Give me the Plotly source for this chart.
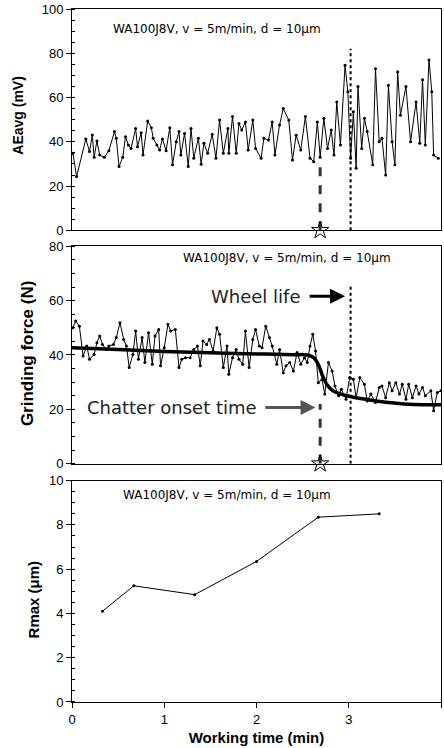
import plotly.graph_objects as go

# ---------------- data ----------------
ae_t = [0.01,0.05,0.15,0.19,0.22,0.24,0.27,0.30,0.35,0.40,0.46,0.48,0.51,0.55,0.58,0.61,0.64,0.69,0.71,0.75,
        0.77,0.82,0.86,0.88,0.92,0.95,0.98,1.02,1.06,1.09,1.13,1.16,1.18,1.22,1.26,1.29,1.32,1.37,1.40,1.43,
        1.47,1.52,1.56,1.60,1.64,1.69,1.70,1.74,1.78,1.81,1.84,1.88,1.91,1.96,1.99,2.05,2.08,2.13,2.17,2.20,
        2.25,2.29,2.35,2.39,2.43,2.48,2.53,2.58,2.62,2.66,2.69,2.73,2.77,2.81,2.84,2.87,2.91,2.96,2.99,3.02,
        3.05,3.08,3.10,3.14,3.17,3.20,3.26,3.29,3.33,3.36,3.40,3.43,3.47,3.50,3.53,3.56,3.62,3.67,3.73,3.77,
        3.80,3.83,3.87,3.90,3.92,3.97]
ae_v = [34.8,24.3,41.3,35.6,43.1,33.0,40.4,34.0,33.0,36.0,44.6,41.6,28.8,33.0,42.3,38.6,37.0,46.0,37.8,44.1,
        34.0,49.4,46.4,41.6,38.6,36.3,41.3,36.0,46.4,29.6,40.0,44.6,34.0,43.8,28.8,46.0,32.6,41.6,29.9,39.3,
        34.8,43.4,32.6,49.8,34.8,46.0,34.8,51.4,34.8,48.3,45.3,49.0,36.3,49.8,37.0,32.6,41.6,40.8,49.0,34.0,
        47.6,55.0,49.8,31.8,43.0,36.3,51.4,32.6,31.0,49.0,33.0,50.6,37.0,45.3,34.0,58.0,38.6,74.6,62.6,32.6,
        53.6,28.0,65.0,37.0,50.6,44.6,29.6,73.0,40.0,41.6,25.0,65.6,40.0,29.6,71.6,52.0,65.0,40.0,58.0,39.3,
        68.0,38.6,77.0,62.6,34.0,32.6]

f_t = [0.01,0.04,0.08,0.12,0.16,0.19,0.24,0.27,0.30,0.33,0.37,0.40,0.45,0.48,0.52,0.56,0.59,0.62,0.66,0.69,
       0.72,0.76,0.79,0.83,0.87,0.90,0.94,0.96,1.00,1.04,1.07,1.12,1.16,1.19,1.23,1.28,1.32,1.36,1.39,1.42,
       1.46,1.49,1.53,1.57,1.60,1.64,1.68,1.70,1.74,1.78,1.81,1.85,1.88,1.92,1.96,1.99,2.03,2.06,2.10,2.14,
       2.17,2.22,2.25,2.29,2.32,2.36,2.40,2.44,2.48,2.52,2.55,2.58,2.61,2.64,2.67,2.71,2.74,2.78,2.82,2.85,
       2.89,2.92,2.97,3.01,3.05,3.08,3.12,3.17,3.20,3.24,3.29,3.33,3.36,3.40,3.44,3.47,3.51,3.55,3.58,3.62,
       3.65,3.69,3.73,3.76,3.80,3.83,3.89,3.92,3.96,4.00]
f_v = [50.0,52.5,50.6,39.6,43.3,38.4,40.2,44.5,47.0,43.9,42.0,43.3,43.9,46.4,51.9,45.7,43.3,35.4,40.2,48.8,
       38.4,46.4,37.2,48.2,36.6,47.0,49.4,36.0,42.7,51.3,48.8,49.4,35.4,38.4,39.0,39.0,42.0,43.3,36.0,45.1,
       43.9,45.7,41.5,50.0,47.6,35.4,43.3,32.9,39.0,42.0,38.4,36.6,48.8,35.4,45.7,49.4,43.3,42.7,50.6,46.4,
       43.3,36.6,42.0,33.5,36.0,37.2,34.1,40.9,36.6,39.0,37.2,43.3,47.6,41.5,29.8,31.0,25.6,37.2,34.1,28.6,
       25.0,27.4,23.7,31.7,31.1,24.3,31.7,29.2,23.1,25.6,22.5,28.0,28.6,24.3,29.8,26.8,29.8,25.6,29.2,23.7,
       29.2,24.3,28.6,25.6,28.0,25.0,26.8,19.5,26.2,26.8]

fit_t = [0.0,0.5,1.0,1.5,2.0,2.4,2.55,2.62,2.67,2.72,2.77,2.83,2.9,3.0,3.2,3.4,3.6,3.8,4.0]
fit_v = [42.7,42.0,41.3,40.8,40.4,40.1,40.0,39.0,36.5,32.0,28.8,26.8,25.8,24.8,23.6,22.6,22.0,21.7,21.7]

r_t = [0.33,0.67,1.33,2.0,2.67,3.33]
r_v = [4.1,5.25,4.85,6.35,8.35,8.5]

onset_t = 2.69
life_t = 3.02
onset_ae_top = 29
life_ae_top = 82
onset_f_top = 22
life_f_top = 66

cond_label = "WA100J8V, v = 5m/min, d = 10μm"

# ---------------- figure ----------------
fig = go.Figure()
line_kw = dict(color="black", width=1)
mk = dict(color="black", size=3)

fig.add_trace(go.Scatter(x=ae_t, y=ae_v, mode="lines+markers", line=line_kw, marker=mk,
                         xaxis="x", yaxis="y", showlegend=False))
fig.add_trace(go.Scatter(x=f_t, y=f_v, mode="lines+markers", line=line_kw, marker=mk,
                         xaxis="x2", yaxis="y2", showlegend=False))
fig.add_trace(go.Scatter(x=fit_t, y=fit_v, mode="lines", line=dict(color="black", width=3.5, shape="spline"),
                         xaxis="x2", yaxis="y2", showlegend=False))
fig.add_trace(go.Scatter(x=r_t, y=r_v, mode="lines+markers", line=line_kw, marker=mk,
                         xaxis="x3", yaxis="y3", showlegend=False))

# vertical markers
for xa, ya, otop, ltop in [("x", "y", onset_ae_top, life_ae_top), ("x2", "y2", onset_f_top, life_f_top)]:
    fig.add_trace(go.Scatter(x=[onset_t, onset_t], y=[0, otop], mode="lines",
                             line=dict(color="#333", width=3, dash="dash"),
                             xaxis=xa, yaxis=ya, showlegend=False))
    fig.add_trace(go.Scatter(x=[life_t, life_t], y=[0, ltop], mode="lines",
                             line=dict(color="black", width=2, dash="dot"),
                             xaxis=xa, yaxis=ya, showlegend=False))
    fig.add_trace(go.Scatter(x=[onset_t], y=[0], mode="markers",
                             marker=dict(symbol="star-open", size=13, color="black", line=dict(width=1)),
                             cliponaxis=False, xaxis=xa, yaxis=ya, showlegend=False))

font_tick = dict(family="Liberation Sans, Arial", size=13, color="black")
ax_common = dict(range=[0, 4], showline=True, mirror=True, linecolor="black", linewidth=1,
                 showgrid=False, zeroline=False, tickfont=font_tick)
y_common = dict(showline=True, mirror=True, linecolor="black", linewidth=1, showgrid=False,
                zeroline=False, ticks="outside", ticklen=5, tickcolor="black", tickfont=font_tick,
                minor=dict(ticks="inside", ticklen=3, tickcolor="black"))

fig.update_layout(
    width=444, height=748,
    margin=dict(l=72, r=2, t=7, b=46),
    plot_bgcolor="white", paper_bgcolor="white",
    xaxis=dict(ax_common, anchor="y", showticklabels=False),
    yaxis=dict(y_common, domain=[0.6806, 1.0], range=[0, 100], dtick=20),
    xaxis2=dict(ax_common, anchor="y2", showticklabels=False),
    yaxis2=dict(y_common, domain=[0.3439, 0.6576], range=[0, 80], dtick=20),
    xaxis3=dict(ax_common, anchor="y3", dtick=1, ticks="outside", ticklen=5, tickcolor="black",
                title=dict(text="<b>Working time (min)</b>", standoff=6,
                           font=dict(family="Liberation Sans, Arial", size=15, color="black"))),
    yaxis3=dict(y_common, domain=[0.0, 0.3194], range=[0, 10], dtick=2),
)

ann = [
    dict(text="<b>AEavg (mV)</b>", xref="paper", yref="paper", x=0, y=0.846, xshift=-54,
         textangle=-90, showarrow=False, font=dict(family="Liberation Sans, Arial", size=14, color="black"),
         xanchor="center", yanchor="middle"),
    dict(text="<b>Grinding force (N)</b>", xref="paper", yref="paper", x=0, y=0.502, xshift=-45,
         textangle=-90, showarrow=False, font=dict(family="Liberation Sans, Arial", size=17, color="black"),
         xanchor="center", yanchor="middle"),
    dict(text="<b>Rmax (μm)</b>", xref="paper", yref="paper", x=0, y=0.148, xshift=-39,
         textangle=-90, showarrow=False, font=dict(family="Liberation Sans, Arial", size=15, color="black"),
         xanchor="center", yanchor="middle"),
]
cfont = dict(family="DejaVu Sans", size=12, color="black")
ann += [
    dict(text=cond_label, xref="x", yref="y", x=1.57, y=91, showarrow=False, font=cfont),
    dict(text=cond_label, xref="x2", yref="y2", x=2.33, y=75.6, showarrow=False, font=cfont),
    dict(text=cond_label, xref="x3", yref="y3", x=1.68, y=9.37, showarrow=False, font=cfont),
]
bfont = dict(family="DejaVu Sans", size=18, color="#222")
ann += [
    dict(text="Wheel life", xref="x2", yref="y2", x=2.50, y=61.6, xanchor="right",
         showarrow=False, font=bfont),
    dict(text="", xref="x2", yref="y2", x=2.96, y=61.6, axref="x2", ayref="y2", ax=2.56, ay=61.6,
         showarrow=True, arrowhead=2, arrowsize=1, arrowwidth=3, arrowcolor="black"),
    dict(text="Chatter onset time", xref="x2", yref="y2", x=2.03, y=20.7, xanchor="right",
         showarrow=False, font=bfont),
    dict(text="", xref="x2", yref="y2", x=2.64, y=20.7, axref="x2", ayref="y2", ax=2.08, ay=20.7,
         showarrow=True, arrowhead=2, arrowsize=1, arrowwidth=3, arrowcolor="#555"),
]
fig.update_layout(annotations=ann)

fig.write_html("out.html", config={"displayModeBar": False},
               post_script="document.body.style.margin='0';document.body.style.padding='0';")
